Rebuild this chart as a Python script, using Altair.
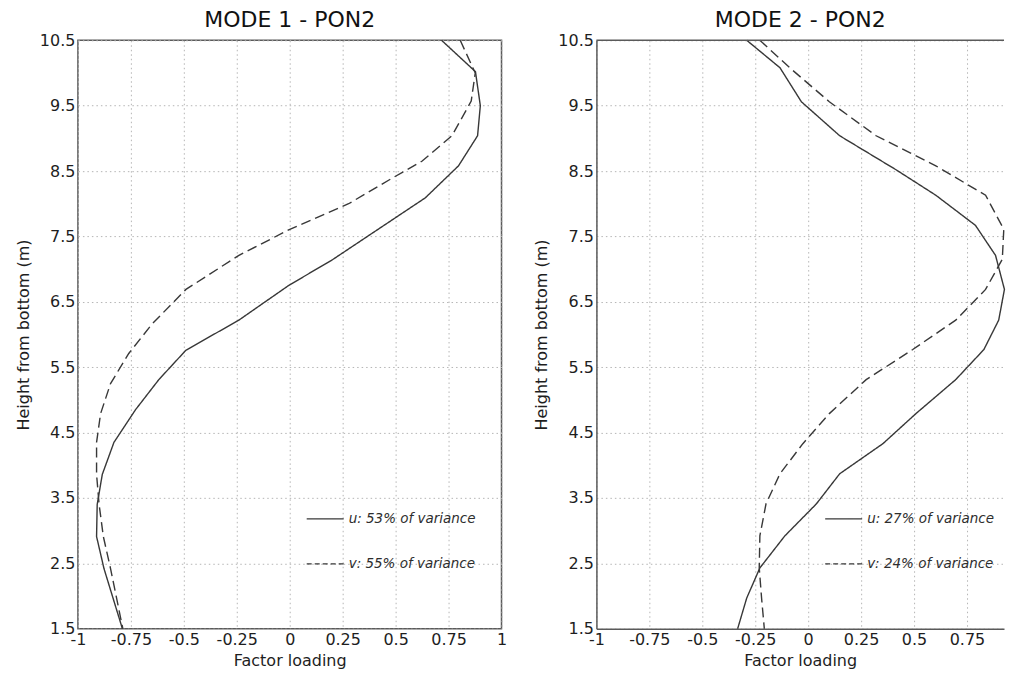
import altair as alt
import pandas as pd

FONT = "DejaVu Sans"
LINE = "#383838"
FRAME = "#5a5a5a"
TEXT = "#1e1e1e"

X_TICKS_1 = [-1, -0.75, -0.5, -0.25, 0, 0.25, 0.5, 0.75, 1]
X_TICKS_2 = [-1, -0.75, -0.5, -0.25, 0, 0.25, 0.5, 0.75]
Y_TICKS = [1.5, 2.5, 3.5, 4.5, 5.5, 6.5, 7.5, 8.5, 9.5, 10.5]

TITLES = ["MODE 1 - PON2", "MODE 2 - PON2"]
LEGEND_1 = ["u: 53% of variance", "v: 55% of variance"]
LEGEND_2 = ["u: 27% of variance", "v: 24% of variance"]

# Mode 1
m1_u_height = [10.5, 10.02, 9.5, 9.04, 8.58, 8.09, 7.14, 6.75, 6.22, 5.76, 5.31, 4.85, 4.35, 3.86, 3.4, 2.91, 2.42, 1.5]
m1_u_load = [0.717, 0.877, 0.90, 0.887, 0.797, 0.64, 0.20, -0.005, -0.24, -0.49, -0.618, -0.728, -0.83, -0.885, -0.909, -0.912, -0.877, -0.79]
m1_v_height = [10.5, 10.0, 9.57, 9.04, 8.65, 8.39, 8.0, 7.6, 7.21, 6.69, 6.16, 5.71, 5.25, 4.79, 4.35, 3.86, 3.4, 2.91, 2.42, 1.5]
m1_v_load = [0.805, 0.876, 0.857, 0.766, 0.624, 0.483, 0.278, -0.005, -0.24, -0.49, -0.65, -0.76, -0.846, -0.893, -0.912, -0.912, -0.9, -0.88, -0.846, -0.788]

# Mode 2
m2_u_height = [10.5, 10.08, 9.56, 9.04, 8.52, 8.13, 7.67, 7.21, 6.69, 6.22, 5.77, 5.31, 4.79, 4.33, 3.87, 3.41, 2.92, 2.43, 1.97, 1.5]
m2_u_load = [-0.29, -0.133, -0.032, 0.149, 0.415, 0.603, 0.79, 0.885, 0.927, 0.90, 0.83, 0.697, 0.509, 0.353, 0.149, 0.039, -0.11, -0.228, -0.29, -0.333]
m2_v_height = [10.5, 10.08, 9.56, 9.04, 8.58, 8.13, 7.61, 7.15, 6.69, 6.22, 5.77, 5.31, 4.79, 4.33, 3.87, 3.41, 2.92, 2.43, 1.97, 1.5]
m2_v_load = [-0.228, -0.087, 0.10, 0.321, 0.603, 0.838, 0.924, 0.917, 0.838, 0.697, 0.494, 0.274, 0.10, -0.025, -0.133, -0.199, -0.228, -0.231, -0.22, -0.207]


def frame(uh, ul, vh, vl):
    rows = []
    for i, (h, x) in enumerate(zip(uh, ul)):
        rows.append({"series": "u", "i": i, "height": h, "loading": x})
    for i, (h, x) in enumerate(zip(vh, vl)):
        rows.append({"series": "v", "i": i, "height": h, "loading": x})
    return pd.DataFrame(rows)


def panel(title, df, xmax, xticks, legend, width, height, open_right):
    common = dict(
        grid=True, gridDash=[1.5, 3], gridColor="#b5b5b5", gridWidth=1,
        ticks=False, domain=open_right, domainColor=FRAME, domainWidth=1.5,
        labelFontSize=16, titleFontSize=16, labelPadding=3,
        labelColor=TEXT, titleColor=TEXT, labelFont=FONT, titleFont=FONT,
        titleFontWeight="normal", labelOverlap=False, labelFlush=False,
        labelExpr="toString(datum.value)",
    )
    x_axis = alt.Axis(values=xticks, title="Factor loading", titlePadding=5, **common)
    y_axis = alt.Axis(values=Y_TICKS, title="Height from bottom (m)", titlePadding=8, **common)
    lines = alt.Chart(df).mark_line(color=LINE, strokeWidth=1.4, clip=False).encode(
        x=alt.X("loading:Q", scale=alt.Scale(domain=[-1, xmax], nice=False, zero=False), axis=x_axis),
        y=alt.Y("height:Q", scale=alt.Scale(domain=[1.5, 10.5], nice=False, zero=False), axis=y_axis),
        strokeDash=alt.StrokeDash("series:N", scale=alt.Scale(domain=["u", "v"], range=[[1, 0], [10, 5]]), legend=None),
        order=alt.Order("i:Q"),
    )
    one = alt.Data(values=[{}])
    layers = [lines]
    for k, (lab, dash) in enumerate(zip(legend, [[1, 0], [5, 3]])):
        ypix = 479 + 45 * k
        layers.append(alt.Chart(one).mark_rule(color=LINE, strokeWidth=1.3, strokeDash=dash).encode(
            x=alt.value(229), x2=alt.value(266), y=alt.value(ypix)))
        layers.append(alt.Chart(one).mark_text(
            align="left", baseline="middle", fontStyle="italic", fontSize=13.5, font=FONT, color="#2e2e2e"
        ).encode(x=alt.value(271), y=alt.value(ypix), text=alt.value(lab)))
    if open_right:
        layers.append(alt.Chart(one).mark_rule(color=FRAME, strokeWidth=1.5).encode(
            x=alt.value(0), x2=alt.value(width), y=alt.value(0)))
        view = alt.ViewBackground(stroke="transparent")
    else:
        view = alt.ViewBackground(stroke=FRAME, strokeWidth=1.5)
    return alt.layer(*layers).properties(
        width=width, height=height, view=view,
        title=alt.TitleParams(title, fontSize=22, font=FONT, fontWeight="normal", color="#111111", offset=0),
    )


left = panel(TITLES[0], frame(m1_u_height, m1_u_load, m1_v_height, m1_v_load), 1, X_TICKS_1, LEGEND_1, 424, 589, False)
right = panel(TITLES[1], frame(m2_u_height, m2_u_load, m2_v_height, m2_v_load), 0.925, X_TICKS_2, LEGEND_2, 408, 589, True)

chart = alt.hconcat(left, right, spacing=25).properties(
    padding={"left": 6, "top": 0, "right": 0, "bottom": 0}
).configure(background="white")

chart.save("out.html", embed_options={"renderer": "svg", "actions": False})
